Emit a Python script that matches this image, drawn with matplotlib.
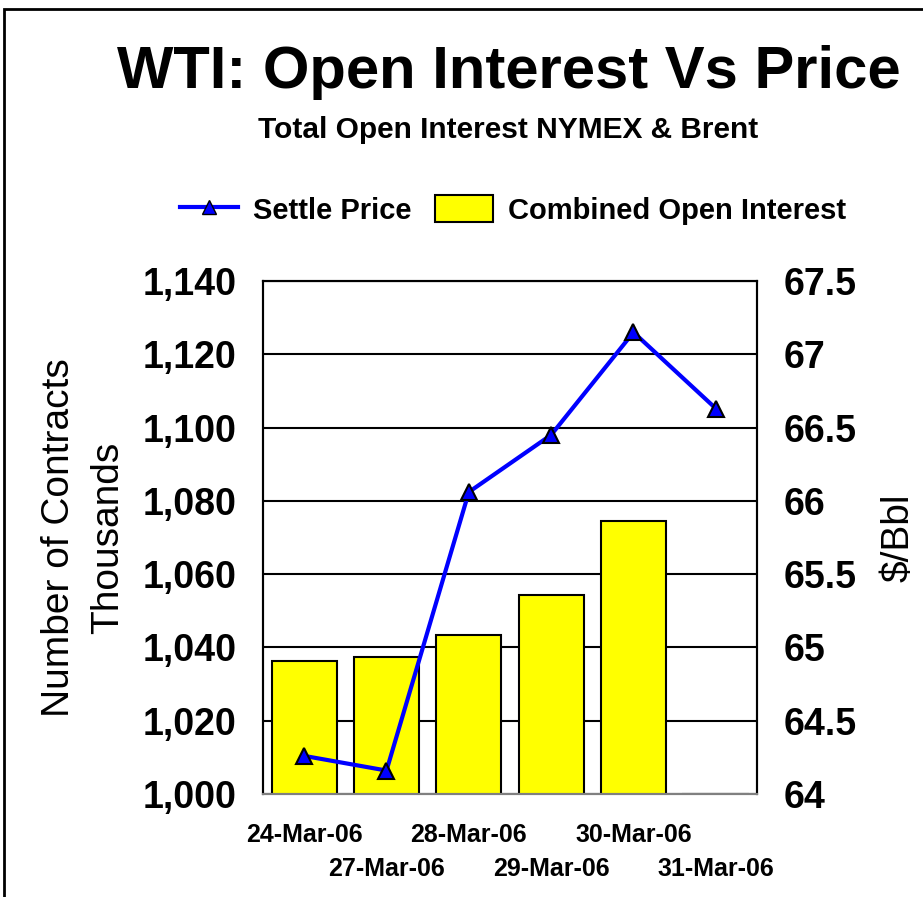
import numpy as np
import matplotlib.pyplot as plt
from matplotlib.patches import Rectangle
from matplotlib.lines import Line2D
from matplotlib.ticker import FuncFormatter

plt.rcParams['font.family'] = ['Liberation Sans', 'DejaVu Sans']

# data
dates = ['24-Mar-06', '27-Mar-06', '28-Mar-06', '29-Mar-06', '30-Mar-06', '31-Mar-06']
open_interest = [1036.3, 1037.4, 1043.4, 1054.3, 1074.5, 1000.0]   # thousands of contracts
settle_price = [64.26, 64.16, 66.06, 66.45, 67.15, 66.63]          # $/Bbl

fig = plt.figure(figsize=(9.23, 8.97), dpi=100)
ax = fig.add_axes([263/923, 1 - 794/897, (757 - 263)/923, (794 - 281)/897])
ax2 = ax.twinx()

x = np.arange(len(dates))
ax.bar(x, open_interest, width=0.79, color='#ffff00', edgecolor='black', linewidth=1.5, zorder=2)
ax.set_xlim(-0.5, len(dates) - 0.5)
ax.set_ylim(1000, 1140)
ax.set_yticks(np.arange(1000, 1141, 20))
ax.yaxis.set_major_formatter(FuncFormatter(lambda v, p: f'{v:,.0f}'))
ax.grid(axis='y', color='black', linewidth=1.5, zorder=1)
ax.set_axisbelow(True)

ax2.plot(x, settle_price, color='#0000ff', linewidth=3, marker='^', markersize=12,
         markerfacecolor='#0000ff', markeredgecolor='black', markeredgewidth=1.5, zorder=3)
ax2.set_ylim(64, 67.5)
ax2.set_yticks(np.arange(64, 67.51, 0.5))
ax2.yaxis.set_major_formatter(FuncFormatter(lambda v, p: f'{v:g}'))

ax.set_xticks(x)
ax.set_xticklabels(dates, fontsize=18, fontweight='bold')
ax.tick_params(axis='x', length=0)
for i, t in enumerate(ax.xaxis.get_major_ticks()):
    t.set_pad(21 if i % 2 == 0 else 45)

ax.tick_params(axis='y', length=0, pad=19, labelsize=27)
ax2.tick_params(axis='y', length=0, pad=19, labelsize=27)
for lab in ax.get_yticklabels() + ax2.get_yticklabels():
    lab.set_fontweight('bold')

for a in (ax, ax2):
    for s in a.spines.values():
        s.set_linewidth(1.5)
        s.set_color('black')
    a.spines['bottom'].set_color('#808080')

ax.set_ylabel('Number of Contracts\nThousands', fontsize=28, labelpad=12, linespacing=1.45)
ax2.set_ylabel('$/Bbl', fontsize=28, rotation=90, labelpad=17)

fig.text(509/923, 1 - 72/897, 'WTI: Open Interest Vs Price', ha='center', va='center',
         fontsize=43, fontweight='bold')
fig.text(508/923, 1 - 130/897, 'Total Open Interest NYMEX & Brent', ha='center', va='center',
         fontsize=21.5, fontweight='bold')

handles = [Line2D([], [], color='#0000ff', linewidth=3, marker='^', markersize=10,
                  markerfacecolor='#0000ff', markeredgecolor='black'),
           Rectangle((0, 0), 1, 1, facecolor='#ffff00', edgecolor='black', linewidth=1.5)]
fig.legend(handles, ['Settle Price', 'Combined Open Interest'], loc='center',
           bbox_to_anchor=(513/923, 1 - 210/897), ncol=2, frameon=False,
           prop={'size': 21, 'weight': 'bold'}, handlelength=2.0, handleheight=1.0,
           columnspacing=0.8, handletextpad=0.5)

# outer frame
fig.add_artist(Rectangle((4/923, -0.1), 1.2, 1 - 9/897 + 0.1, transform=fig.transFigure,
                         fill=False, edgecolor='black', linewidth=2))

fig.savefig('out.png', dpi=100)
